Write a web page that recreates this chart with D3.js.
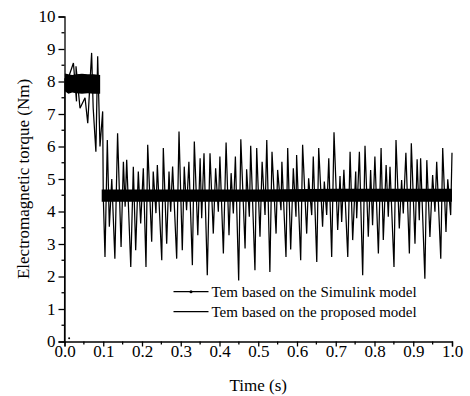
<!DOCTYPE html>
<html>
<head>
<meta charset="utf-8">
<script src="https://cdn.jsdelivr.net/npm/d3@7"></script>
<style>
  html, body { margin: 0; padding: 0; background: #fff; }
  svg { display: block; }
  svg text { font-family: "Liberation Serif", "Times New Roman", serif !important; fill: #000; }
</style>
</head>
<body>
<svg id="chart" width="470" height="396"></svg>
<script>
// ---------------- DATA ----------------
const xTicks = [0.0, 0.1, 0.2, 0.3, 0.4, 0.5, 0.6, 0.7, 0.8, 0.9, 1.0];
const yTicks = [0, 1, 2, 3, 4, 5, 6, 7, 8, 9, 10];
const seriesNames = ["Tem based on the Simulink model", "Tem based on the proposed model"];

// dense high-frequency ripple bands (envelope of the oscillation)
const band1Time = [0.001, 0.010, 0.020, 0.030, 0.045, 0.060, 0.075, 0.092];
const band1Low  = [7.70, 7.62, 7.66, 7.64, 7.62, 7.64, 7.62, 7.62];
const band1High = [8.25, 8.22, 8.20, 8.22, 8.24, 8.22, 8.22, 8.20];
const band2Time = [0.096, 0.300, 0.500, 0.700, 0.900, 1.000];
const band2Low  = [4.30, 4.30, 4.30, 4.30, 4.30, 4.30];
const band2High = [4.68, 4.68, 4.68, 4.70, 4.70, 4.70];

// start-up transient
const startTime  = [0.000, 0.001, 0.004];
const startValue = [0.00, 8.10, 7.90];

// spikes (peaks and troughs) of the torque ripple, in time order
const spikeTime = [
  0.004, 0.023, 0.031, 0.0297, 0.040, 0.053, 0.060, 0.070, 0.074, 0.081, 0.0856, 0.0916, 0.0985, 0.1000,
  0.1045, 0.1105, 0.1157, 0.1220, 0.1300, 0.1370, 0.1460, 0.1520, 0.1565, 0.1605, 0.1710, 0.1776, 0.1837,
  0.1905, 0.1966, 0.2034, 0.2103, 0.2147,
  0.225, 0.229, 0.236, 0.2396, 0.251, 0.255, 0.2637, 0.2697, 0.274, 0.279, 0.2895, 0.2955, 0.304, 0.309,
  0.315, 0.321, 0.330, 0.335, 0.344, 0.350, 0.354, 0.360, 0.3685, 0.3755, 0.384, 0.390, 0.397, 0.401,
  0.410, 0.417, 0.4245, 0.430, 0.4357, 0.441, 0.4495, 0.455, 0.466, 0.470, 0.477, 0.4805, 0.4915, 0.496,
  0.5045, 0.510, 0.5175, 0.522, 0.530, 0.5355, 0.546, 0.550, 0.5587, 0.561, 0.5716, 0.576, 0.5837, 0.5905,
  0.5974, 0.599, 0.6095, 0.6145, 0.625, 0.630, 0.638, 0.642, 0.651, 0.656, 0.666, 0.6705, 0.6766, 0.682,
  0.6895, 0.6955, 0.705, 0.711, 0.7153, 0.721, 0.731, 0.737, 0.7437, 0.7515, 0.754, 0.761, 0.7695, 0.7755,
  0.784, 0.790, 0.795, 0.801, 0.810, 0.817, 0.8227, 0.830, 0.8356, 0.840, 0.8503, 0.8555, 0.864, 0.870,
  0.8743, 0.881, 0.890, 0.895, 0.9045, 0.910, 0.9156, 0.919, 0.930, 0.935, 0.943, 0.950, 0.956, 0.9605,
  0.971, 0.976, 0.9845, 0.989, 0.9966, 1.000
];
const spikeValue = [
  7.90, 8.57, 7.39, 8.47, 7.18, 7.50, 6.72, 8.88, 7.19, 5.84, 8.78, 6.00, 7.08, 4.50,
  2.60, 6.20, 3.53, 5.00, 2.55, 6.41, 2.91, 5.53, 4.15, 5.59, 2.29, 5.38, 2.81,
  5.23, 3.63, 5.33, 2.29, 6.05,
  3.07, 5.23, 3.95, 5.43, 2.50, 5.95, 3.01, 5.23, 3.99, 5.38, 2.55, 6.46, 2.81, 5.38,
  4.04, 5.53, 2.35, 6.15, 3.27, 5.64, 3.79, 5.79, 2.04, 5.79, 3.32, 5.33, 3.99, 5.69,
  2.71, 6.12, 3.27, 5.18, 3.94, 5.69, 1.88, 6.22, 2.86, 5.30, 3.84, 6.02, 2.19, 5.95,
  3.22, 5.53, 3.89, 6.20, 2.14, 5.84, 3.32, 5.28, 4.04, 5.53, 2.60, 5.95, 2.83, 5.33,
  3.84, 5.74, 2.50, 6.05, 3.32, 5.02, 3.89, 5.69, 2.45, 5.95, 3.53, 4.92, 3.89, 5.64,
  2.60, 6.44, 3.43, 5.09, 3.68, 5.28, 2.60, 5.84, 3.12, 5.23, 3.79, 5.84, 2.04, 6.02,
  3.22, 5.28, 3.58, 5.69, 2.71, 5.95, 3.12, 5.43, 3.84, 5.38, 2.29, 6.20, 3.48, 4.97,
  3.94, 5.81, 2.71, 6.10, 3.01, 5.61, 3.73, 5.64, 1.93, 5.58, 3.22, 5.12, 3.99, 5.53,
  2.55, 5.95, 3.37, 4.99, 3.89, 5.81
];

// single marker of the Simulink series visible near the origin
const markerTime = [0.012];
const markerValue = [0.10];

// ---------------- CHART ----------------
const FONT = '"Liberation Serif", "Times New Roman", serif';
const svg = d3.select("#chart");
const x = d3.scaleLinear().domain([0, 1]).range([64.5, 452]);
const y = d3.scaleLinear().domain([0, 10]).range([341.5, 16.5]);

// ripple bands
const band = (times, lo, hi) => times.map((t, i) => ({ t, lo: lo[i], hi: hi[i] }));
const area = d3.area().x(d => x(d.t)).y0(d => y(d.lo)).y1(d => y(d.hi)).curve(d3.curveLinear);
svg.append("path").datum(band(band1Time, band1Low, band1High)).attr("d", area).attr("fill", "#000");
svg.append("path").datum(band(band2Time, band2Low, band2High)).attr("d", area).attr("fill", "#000");

// start-up line
const line = d3.line().x(d => x(d[0])).y(d => y(d[1]));
svg.append("path")
  .datum(startTime.map((t, i) => [t, startValue[i]]))
  .attr("d", line).attr("fill", "none").attr("stroke", "#000").attr("stroke-width", 1.2);

// spikes
svg.append("path")
  .datum(spikeTime.map((t, i) => [t, spikeValue[i]]))
  .attr("d", line).attr("fill", "none").attr("stroke", "#000")
  .attr("stroke-width", 1.25).attr("stroke-linejoin", "miter").attr("stroke-miterlimit", 2);

// marker
svg.selectAll("circle.mk").data(markerTime.map((t, i) => [t, markerValue[i]]))
  .enter().append("circle").attr("class", "mk")
  .attr("cx", d => x(d[0])).attr("cy", d => y(d[1])).attr("r", 1).attr("fill", "#000");

// axes
const xAxis = d3.axisBottom(x).tickValues(xTicks).tickFormat(d3.format(".1f")).tickSize(5);
const gx = svg.append("g").attr("transform", `translate(0,${y(0)})`).call(xAxis);
gx.selectAll(".tick text").attr("y", 3.4);
const yAxis = d3.axisLeft(y).tickValues(yTicks).tickFormat(d3.format("d")).tickSize(6).tickPadding(3);
const gy = svg.append("g").attr("transform", `translate(${x(0)},0)`).call(yAxis);
[gx, gy].forEach(g => {
  g.attr("font-family", FONT).attr("font-size", 17);
  g.select(".domain").attr("stroke", "#000").attr("stroke-width", 1.3);
  g.selectAll(".tick line").attr("stroke", "#000").attr("stroke-width", 1.3);
  g.selectAll(".tick text").style("font-family", FONT).style("font-size", "17px").attr("fill", "#000");
});
// minor ticks
const xMinor = xTicks.slice(0, -1).map(d => d + 0.05);
gx.selectAll("line.minor").data(xMinor).enter().append("line").attr("class", "minor")
  .attr("x1", d => x(d)).attr("x2", d => x(d)).attr("y1", 0).attr("y2", 3)
  .attr("stroke", "#000").attr("stroke-width", 1.3);
const yMinor = yTicks.slice(0, -1).map(d => d + 0.5);
gy.selectAll("line.minor").data(yMinor).enter().append("line").attr("class", "minor")
  .attr("y1", d => y(d)).attr("y2", d => y(d)).attr("x1", 0).attr("x2", -3)
  .attr("stroke", "#000").attr("stroke-width", 1.3);

// axis titles
svg.append("text").attr("x", (x(0) + x(1)) / 2).attr("y", 391).attr("text-anchor", "middle")
  .style("font-family", FONT).style("font-size", "17px").text("Time (s)");
svg.append("text").attr("transform", `translate(28.5,${(y(0) + y(10)) / 2}) rotate(-90)`)
  .attr("text-anchor", "middle").style("font-family", FONT).style("font-size", "17px")
  .text("Electromagnetic torque (Nm)");

// legend
const legY = [291.7, 311.7];
const leg = svg.append("g");
seriesNames.forEach((name, i) => {
  leg.append("line").attr("x1", 173.5).attr("x2", 208.5).attr("y1", legY[i]).attr("y2", legY[i])
    .attr("stroke", "#000").attr("stroke-width", 1.2);
  if (i === 0) leg.append("circle").attr("cx", 191).attr("cy", legY[i]).attr("r", 1.5).attr("fill", "#000");
  leg.append("text").attr("x", 211.5).attr("y", legY[i] + 5)
    .style("font-family", FONT).style("font-size", "15px").text(name);
});
</script>
</body>
</html>
